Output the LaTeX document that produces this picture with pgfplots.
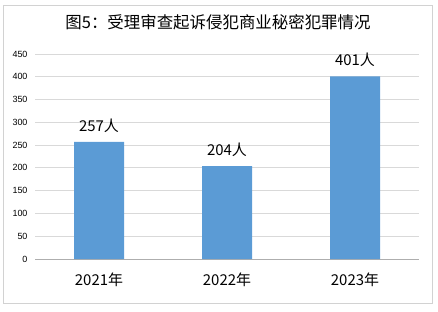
\documentclass[border=0pt]{standalone}
\usepackage{pgfplots}
\pgfplotsset{compat=1.18}
\usepackage{fontspec}
\setmainfont{Liberation Sans}
\newfontfamily\cjk{Noto Sans CJK SC}
\definecolor{barblue}{RGB}{91,155,213}
\definecolor{gridgray}{RGB}{217,217,217}
\definecolor{framegray}{RGB}{210,210,210}
\begin{document}
\begin{tikzpicture}[x=1bp,y=1bp]
\useasboundingbox (0,0) rectangle (438,311);
\draw[color=framegray, line width=0.9bp] (3.5,8) rectangle (432,306);
\node[font=\cjk\fontsize{16.5}{18}\selectfont] at (218,289) {图5：受理审查起诉侵犯商业秘密犯罪情况};
\begin{axis}[
  at={(35bp,52bp)}, anchor=south west,
  scale only axis, width=384bp, height=205bp,
  xmin=-0.5, xmax=2.5, ymin=0, ymax=450,
  ytick={0,50,...,450},
  xtick=data, xticklabels={2021年,2022年,2023年},
  ybar, bar width=50bp, bar shift=0pt,
  /pgf/number format/assume math mode=true,
  axis x line*=bottom,
  separate axis lines,
  x axis line style={draw=gridgray!80!black, line width=0.8bp, -},
  y axis line style={draw=none},
  major tick length=0pt,
  ymajorgrids, grid style={draw=gridgray, line width=0.8bp},
  y tick label style={font=\fontsize{9}{10}\selectfont, xshift=-4bp},
  x tick label style={font=\cjk\fontsize{15}{16}\selectfont, yshift=-10bp},
  nodes near coords={\pgfmathprintnumber{\pgfplotspointmeta}人},
  every node near coord/.append style={font=\cjk\fontsize{15}{16}\selectfont, black, yshift=6bp},
]
\addplot[fill=barblue, draw=none] coordinates {(0,257) (1,204) (2,401)};
\end{axis}
\end{tikzpicture}
\end{document}
